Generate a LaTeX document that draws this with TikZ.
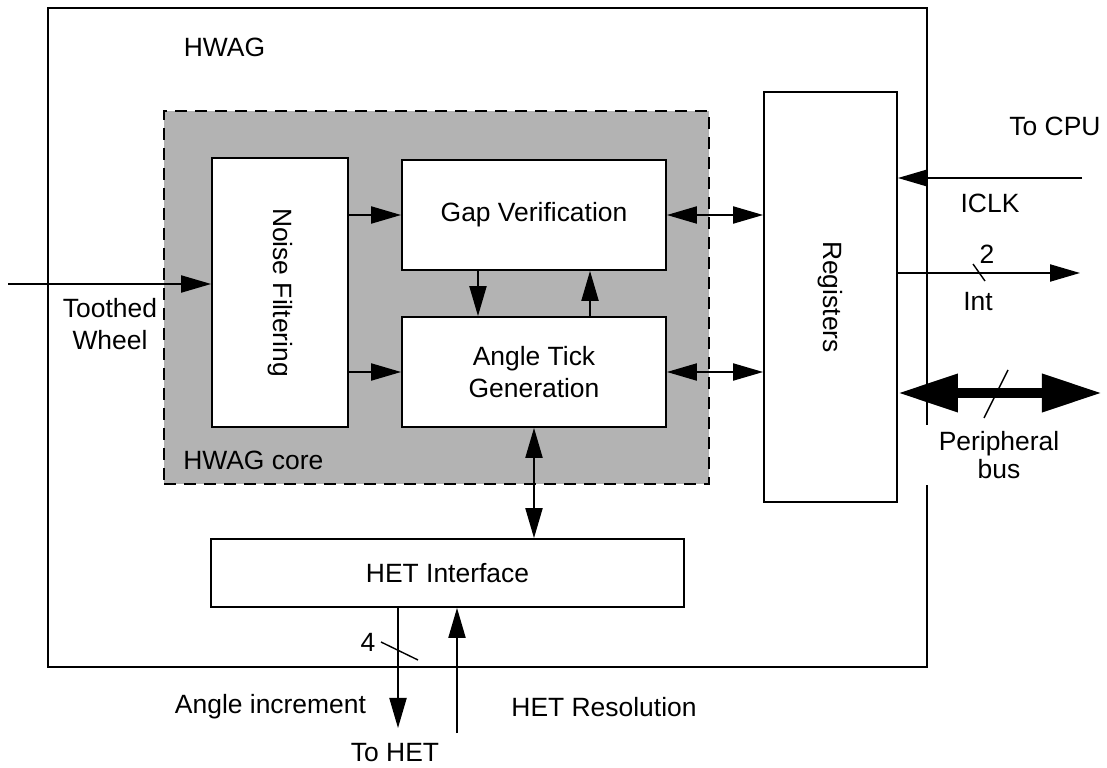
\documentclass[tikz,border=0pt]{standalone}
\usepackage{fontspec}
\setmainfont{Liberation Sans}
\usetikzlibrary{arrows.meta, positioning, calc}
\definecolor{coreGray}{HTML}{B3B3B3}
\tikzset{
  blk/.style={rectangle, draw=black, line width=1.3pt, fill=white,
              align=center, inner sep=0pt},
  arrowS/.style={-{Triangle[length=0.75cm, width=0.43cm]}, line width=1pt},
  arrowB/.style={{Triangle[length=0.75cm, width=0.43cm]}-{Triangle[length=0.75cm, width=0.43cm]},
                 line width=1pt},
  busArrow/.style={{Triangle[length=1.5cm, width=0.9cm]}-{Triangle[length=1.5cm, width=0.9cm]},
                   line width=0.25cm},
  slash/.style={line width=1pt},
  lbl/.style={inner sep=0pt, align=center},
}

\begin{document}
\begin{tikzpicture}[x=0.025cm, y=-0.025cm, font=\fontsize{18.8}{23}\selectfont]
    \useasboundingbox (0,0) rectangle (1107,768);
    % HWAG block
    \node[blk, minimum width=21.975cm, minimum height=16.475cm] (hwag) at (487.5,337.5) {};
    \node[lbl] (hwagT) at (224.5,47.5) {HWAG};
    % HWAG core (grey, dashed)
    \node[blk, fill=coreGray, dash pattern=on 0.3cm off 0.2cm,
          minimum width=13.625cm, minimum height=9.325cm] (core) at (436.5,297.5) {};
    \node[lbl, anchor=west] (coreT) at (183,460.5) {HWAG core};
    % blocks
    \node[blk, minimum width=3.4cm, minimum height=6.725cm] (noise) at (280,292.5)
          {\rotatebox{-90}{Noise Filtering}};
    \node[blk, minimum width=6.6cm, minimum height=2.75cm] (gap) at (534,215) {Gap Verification};
    \node[blk, minimum width=6.6cm, minimum height=2.75cm] (tick) at (534,372) {Angle Tick\\Generation};
    \node[blk, minimum width=3.325cm, minimum height=10.25cm] (regs) at (830.5,297)
          {\rotatebox{-90}{Registers}};
    \node[blk, minimum width=11.825cm, minimum height=1.7cm] (het) at (447.5,573) {HET Interface};
    % toothed wheel input
    \coordinate (wheel) at (8,284);
    \draw[arrowS] (wheel) -- (wheel -| noise.west);
    \node[lbl] (wheelT) at (110,324) {Toothed\\Wheel};
    % core arrows
    \foreach \n in {gap,tick} {
      \draw[arrowS] (noise.east |- \n.west) -- (\n.west);
      \draw[arrowB] (\n.east) -- (\n.east -| regs.west);
    }
    \draw[arrowS] ([xshift=-1.4cm]gap.south) -- ([xshift=-1.4cm]tick.north);
    \draw[arrowS] ([xshift=1.4cm]tick.north) -- ([xshift=1.4cm]gap.south);
    \draw[arrowB] (tick.south) -- (tick.south |- het.north);
    % CPU side
    \coordinate (cpu) at (1082,178);
    \draw[arrowS] (cpu) -- (cpu -| regs.east);
    \node[lbl] (cpuT) at (1055,126) {To CPU};
    \node[lbl] (iclkT) at (990,203) {ICLK};
    \coordinate (int) at (1080,273);
    \draw[arrowS] (regs.east |- int) -- (int);
    \draw[slash] (973,264) -- (985,281);
    \node[lbl] (twoT) at (987,254) {2};
    \node[lbl] (intT) at (978,302) {Int};
    \coordinate (bus) at (1102,393);
    \draw[busArrow] (regs.east |- bus) -- (bus);
    \draw[slash] (984,418) -- (1008,370);
    \node[lbl, fill=white, inner xsep=0.4cm, inner ysep=0.15cm,
          font=\fontsize{18.8}{20}\selectfont] (busT) at (999,455) {Peripheral\\bus};
    % HET side
    \coordinate (toHET) at (398,728);
    \draw[arrowS] (het.south -| toHET) -- (toHET);
    \draw[slash] (381,642) -- (418,660);
    \node[lbl] (fourT) at (368,642) {4};
    \node[lbl] (incT) at (270.5,707) {Angle increment};
    \node[lbl] (toHetT) at (395,753) {To HET};
    \coordinate (hetRes) at (457,733);
    \draw[arrowS] (hetRes) -- (hetRes |- het.south);
    \node[lbl] (resT) at (604,707) {HET Resolution};
\end{tikzpicture}
\end{document}
